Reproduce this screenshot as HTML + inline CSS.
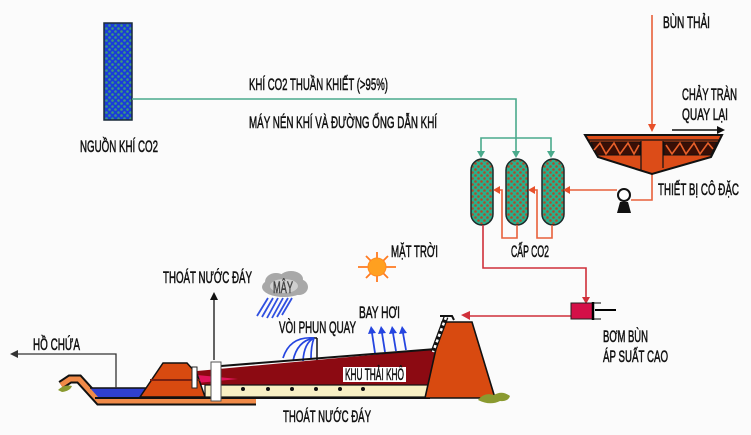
<!DOCTYPE html>
<html><head><meta charset="utf-8"><style>
html,body{margin:0;padding:0;background:#fbfbfb;}
svg{display:block;}
text{font-family:"Liberation Sans Narrow","Liberation Sans",sans-serif;font-size:16.5px;fill:#111;stroke:#111;stroke-width:0.55;}
</style></head><body>
<svg width="751" height="435" viewBox="0 0 751 435" xmlns="http://www.w3.org/2000/svg">
<defs>
<pattern id="pb" width="6" height="6" patternUnits="userSpaceOnUse">
<rect width="6" height="6" fill="#1a3cd8"/>
<circle cx="1.5" cy="1.5" r="1.3" fill="#3c9a7c"/>
<circle cx="4.5" cy="4.5" r="1.3" fill="#3c9a7c"/>
</pattern>
<pattern id="pt" width="6" height="6" patternUnits="userSpaceOnUse">
<rect width="6" height="6" fill="#28b08c"/>
<circle cx="1.5" cy="1.5" r="1.3" fill="#b04a2a"/>
<circle cx="4.5" cy="4.5" r="1.3" fill="#b04a2a"/>
</pattern>
</defs>
<rect width="751" height="435" fill="#fbfbfb"/>

<!-- CO2 source -->
<rect x="104" y="23" width="28" height="97" fill="url(#pb)" stroke="#1a2a3a" stroke-width="1.5"/>
<text x="80" y="152" textLength="78" lengthAdjust="spacingAndGlyphs">NGUỒN KHÍ CO2</text>

<!-- green gas line -->
<g stroke="#4aaa8c" stroke-width="1.6" fill="none">
<path d="M132,99 H516 V152"/>
<path d="M481,152 V138 H551 V152"/>
</g>
<g fill="#4aaa8c">
<polygon points="477,151 485,151 481,158"/>
<polygon points="512,151 520,151 516,158"/>
<polygon points="547,151 555,151 551,158"/>
</g>
<text x="249" y="90" textLength="139" lengthAdjust="spacingAndGlyphs">KHÍ CO2 THUẦN KHIẾT (&gt;95%)</text>
<text x="249" y="128" textLength="188" lengthAdjust="spacingAndGlyphs">MÁY NÉN KHÍ VÀ ĐƯỜNG ỐNG DẪN KHÍ</text>

<!-- tanks -->
<rect x="471" y="159" width="22" height="66" rx="11" fill="url(#pt)" stroke="#1a2a2a" stroke-width="1.5"/>
<rect x="506" y="159" width="22" height="66" rx="11" fill="url(#pt)" stroke="#1a2a2a" stroke-width="1.5"/>
<rect x="542" y="159" width="22" height="66" rx="11" fill="url(#pt)" stroke="#1a2a2a" stroke-width="1.5"/>

<!-- orange loop lines -->
<g stroke="#e8603a" stroke-width="1.6" fill="none">
<path d="M652,15 V126"/>
<path d="M652,174 V200 H631"/>
<path d="M617,190 H569"/>
<path d="M552,225 V238 H537 V190 H533"/>
<path d="M517,225 V238 H502 V190 H498"/>
</g>
<g fill="#e8502a">
<polygon points="648,124 656,124 652,132"/>
<polygon points="570,186 570,194 563,190"/>
<polygon points="535,186 535,194 528,190"/>
<polygon points="500,186 500,194 493,190"/>
</g>
<text x="663" y="28" textLength="47" lengthAdjust="spacingAndGlyphs">BÙN THẢI</text>

<!-- red line to pump -->
<g stroke="#d0303a" stroke-width="1.6" fill="none">
<path d="M483,225 V268 H586 V298"/>
<path d="M571,316 H468"/>
</g>
<g fill="#d0303a">
<polygon points="582,297 590,297 586,304"/>
<polygon points="470,311 470,320 461,315"/>
</g>
<text x="511" y="257" textLength="38" lengthAdjust="spacingAndGlyphs">CẤP CO2</text>

<!-- high pressure pump -->
<rect x="571" y="303" width="22" height="16" fill="#d41048" stroke="#222" stroke-width="1"/>
<path d="M593,302 V320" stroke="#000" stroke-width="2.5"/>
<path d="M593,303 H601 M593,319 H601" stroke="#000" stroke-width="1"/>
<path d="M595,310 H616" stroke="#000" stroke-width="2"/>
<text x="603" y="342" textLength="45" lengthAdjust="spacingAndGlyphs">BƠM BÙN</text>
<text x="603" y="362" textLength="65" lengthAdjust="spacingAndGlyphs">ÁP SUẤT CAO</text>

<!-- thickener -->
<path d="M585,135 H722 L711,157 L652,174 L598,157 Z" fill="#dc4c18" stroke="#111" stroke-width="2"/>
<path d="M587,140 H720" stroke="#111" stroke-width="1.2"/>
<polygon points="591,142 640,142 640,155 597,155" fill="#3a0f06" stroke="#111" stroke-width="1"/>
<polygon points="664,142 717,142 711,155 664,155" fill="#3a0f06" stroke="#111" stroke-width="1"/>
<path d="M594,150 L600,143 L606,154 L614,143 L620,154 L628,143 L634,154 L639,145" stroke="#e8602a" stroke-width="1.6" fill="none"/>
<path d="M666,145 L672,154 L680,143 L686,154 L694,143 L700,154 L708,143 L713,149" stroke="#e8602a" stroke-width="1.6" fill="none"/>
<path d="M641,141 V171 M663,141 V168" stroke="#111" stroke-width="1.2"/>
<!-- overflow arrow -->
<path d="M672,130 H718" stroke="#111" stroke-width="1.6"/>
<polygon points="717,126 717,134 725,130" fill="#111"/>
<text x="682" y="100" textLength="55" lengthAdjust="spacingAndGlyphs">CHẢY TRÀN</text>
<text x="682" y="120" textLength="46" lengthAdjust="spacingAndGlyphs">QUAY LẠI</text>
<text x="658" y="195" textLength="81" lengthAdjust="spacingAndGlyphs">THIẾT BỊ CÔ ĐẶC</text>

<!-- small pump -->
<polygon points="617,213 631,213 628,202 620,202" fill="#111"/>
<circle cx="624" cy="195" r="6" fill="#fff" stroke="#111" stroke-width="2"/>

<!-- sun -->
<g stroke="#ff7a20" stroke-width="1.8">
<path d="M358,267 H396 M377,252 V282 M366,256 L388,278 M388,256 L366,278"/>
</g>
<circle cx="377" cy="267" r="9" fill="#ffa020" stroke="#ff8a20"/>
<text x="391" y="257" textLength="47" lengthAdjust="spacingAndGlyphs">MẶT TRỜI</text>

<!-- cloud -->
<g fill="#a8a8a8">
<ellipse cx="284" cy="287" rx="22" ry="10"/>
<ellipse cx="276" cy="282" rx="11" ry="9"/>
<ellipse cx="291" cy="279" rx="12" ry="8"/>
<ellipse cx="299" cy="287" rx="9" ry="8"/>
</g>
<ellipse cx="284" cy="286" rx="14" ry="7" fill="#cfcfcf"/>
<text x="273" y="293" textLength="20" lengthAdjust="spacingAndGlyphs" style="fill:#444;stroke:#444">MÂY</text>
<g stroke="#3050e0" stroke-width="1.8">
<path d="M268,298 L257,316 M273,298 L262,317 M278,298 L267,318 M283,298 L272,318 M288,298 L277,317 M292,298 L282,315"/>
</g>

<!-- sprinkler -->
<path d="M317,338 V363 M311,338 H317" stroke="#111" stroke-width="1.5"/>
<g stroke="#2545e0" stroke-width="1.7" fill="none">
<path d="M314,338 Q290,336 283,358"/>
<path d="M314,338 Q297,341 293,361"/>
<path d="M314,338 Q304,343 303,361"/>
<path d="M314,338 Q311,346 311,358"/>
</g>
<text x="279" y="333" textLength="77" lengthAdjust="spacingAndGlyphs">VÒI PHUN QUAY</text>

<!-- evaporation arrows -->
<g stroke="#2545e0" stroke-width="1.8">
<path d="M375,353 L372,333 M385,352 L382,333 M396,351 L393,333 M406,350 L403,333"/>
</g>
<g fill="#2545e0">
<polygon points="368,334 376,333 371,326"/>
<polygon points="378,334 386,333 381,326"/>
<polygon points="389,334 397,333 392,326"/>
<polygon points="399,334 407,333 402,326"/>
</g>
<text x="359" y="318" textLength="41" lengthAdjust="spacingAndGlyphs">BAY HƠI</text>

<!-- base orange band -->
<polyline points="61,385 70,379 79,379 99,401 256,401" fill="none" stroke="#111" stroke-width="9"/>
<polyline points="61,385 70,379 79,379 99,401 256,401" fill="none" stroke="#f08a48" stroke-width="5"/>
<!-- grass left -->
<path d="M58,390 Q64,384 72,386 Q70,391 62,392 Z" fill="#8a9a30"/>

<!-- pool -->
<polygon points="90,388 146,388 141,397 98,397" fill="#3040d0"/>
<path d="M90,388 H150" stroke="#111" stroke-width="1.5"/>

<!-- dry zone -->
<polygon points="197,371 436,349 436,385 197,385" fill="#8c0a12"/>
<polygon points="197,375 238,379 197,383" fill="#e0145a"/>
<path d="M221,366 L436,349" stroke="#111" stroke-width="2"/>
<rect x="205" y="385" width="228" height="12" fill="#f8f0c4" stroke="#111" stroke-width="1.2"/>
<g fill="#111">
<circle cx="243" cy="389" r="2"/><circle cx="268" cy="389" r="2"/><circle cx="292" cy="389" r="2"/>
<circle cx="316" cy="389" r="2"/><circle cx="340" cy="389" r="2"/><circle cx="363" cy="389" r="2"/>
</g>
<path d="M95,398 H430" stroke="#111" stroke-width="2"/>
<rect x="343" y="367" width="63" height="15" fill="#fff"/>
<text x="345" y="380" textLength="59" lengthAdjust="spacingAndGlyphs">KHU THẢI KHÔ</text>

<!-- mound -->
<polygon points="140,397 163,363 187,363 197,374 205,397" fill="#d84a10" stroke="#111" stroke-width="1.5"/>
<path d="M150,380 H200" stroke="#7a2010" stroke-width="2"/>
<rect x="192" y="367" width="5" height="21" fill="#fff" stroke="#222" stroke-width="1"/>
<rect x="211" y="362" width="10" height="39" fill="#fff" stroke="#555" stroke-width="1"/>

<!-- drain arrow up -->
<path d="M214,360 V299" stroke="#111" stroke-width="1.3"/>
<polygon points="210,300 218,300 214,292" fill="#111"/>
<text x="163" y="283" textLength="89" lengthAdjust="spacingAndGlyphs">THOÁT NƯỚC ĐÁY</text>

<!-- reservoir arrow -->
<path d="M116,388 V354 H17" stroke="#333" stroke-width="1.3" fill="none"/>
<polygon points="18,350 18,358 10,354" fill="#333"/>
<text x="33" y="350" textLength="47" lengthAdjust="spacingAndGlyphs">HỒ CHỨA</text>

<!-- dam -->
<polygon points="442,322 472,322 495,398 425,398" fill="#d84a10" stroke="#111" stroke-width="1.6"/>
<path d="M446,317 L433,352" stroke="#111" stroke-width="5"/>
<path d="M446,317 L433,352" stroke="#fff" stroke-width="2.5" stroke-dasharray="3,3"/>
<path d="M440,316 H452 L454,320" stroke="#111" stroke-width="2" fill="none"/>
<path d="M478,400 Q484,392 494,395 Q502,390 510,396 Q508,402 500,401 Q490,406 478,400 Z" fill="#8a9a30"/>

<text x="283" y="422" textLength="88" lengthAdjust="spacingAndGlyphs">THOÁT NƯỚC ĐÁY</text>
</svg>
</body></html>
